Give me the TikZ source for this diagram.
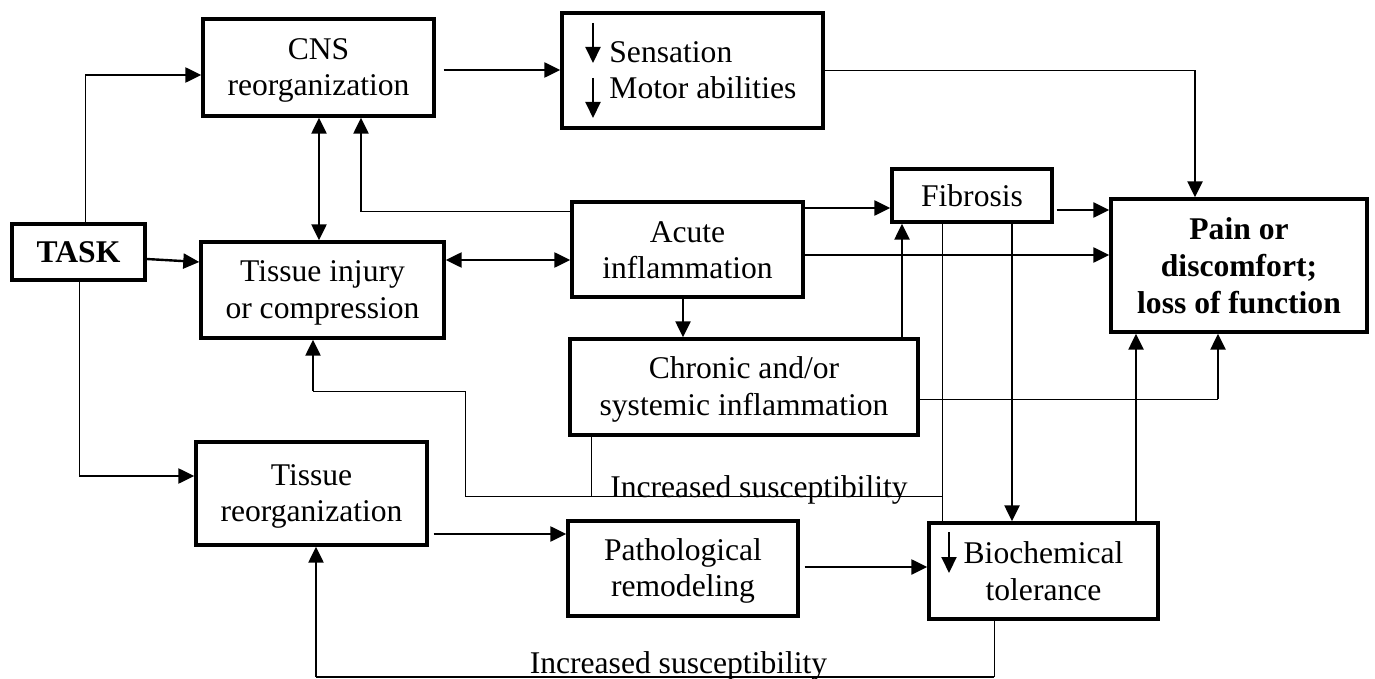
\documentclass[tikz,border=0pt]{standalone}
\usepackage{fontspec}
\setmainfont{Liberation Serif}
\usepackage{tikz}
\usetikzlibrary{shapes,arrows.meta,positioning}
\newcommand{\sr}{\rule[-2.5pt]{0pt}{16pt}}
\tikzstyle{box} = [rectangle, draw, line width=1.7pt, align=center, inner sep=0pt, font=\fontsize{15.8}{18.3}\selectfont]
\tikzstyle{bbox} = [box, font=\fontsize{15.8}{18.5}\selectfont\bfseries]
\tikzstyle{txt} = [align=left, inner sep=0pt, font=\fontsize{15.8}{18.3}\selectfont]
\tikzstyle{line} = [draw, line width=1.2pt]
\tikzstyle{thinline} = [draw, line width=0.5pt]
\tikzstyle{arrow} = [draw, line width=1.2pt, -{Triangle[length=8pt,width=7.5pt]}]
\tikzstyle{dblarrow} = [draw, line width=1.2pt, {Triangle[length=8pt,width=7.5pt]}-{Triangle[length=8pt,width=7.5pt]}]

\begin{document}
\begin{tikzpicture}[x=0.5pt, y=-0.5pt]
	\useasboundingbox (0,0) rectangle (1375,679);

	% boxes
	\node [bbox, minimum width=66.5pt, minimum height=28pt] (task) at (78.5,252) {\sr TASK};
	\node [box, minimum width=115.5pt, minimum height=48.5pt] (cns) at (318.5,67.5) {\sr CNS\\\sr reorganization};
	\node [box, minimum width=130.5pt, minimum height=57.5pt] (sens) at (692.5,70.5) {};
	\node [txt, anchor=west] (sensTxt) at (609,70) {Sensation\\Motor abilities};
	\node [box, minimum width=121.5pt, minimum height=48pt] (injury) at (322.5,290) {\sr Tissue injury\\\sr or compression};
	\node [box, minimum width=115.5pt, minimum height=47.5pt] (acute) at (687.5,249.5) {\sr Acute\\\sr inflammation};
	\node [box, minimum width=80pt, minimum height=26.5pt] (fibro) at (972,195.5) {\sr Fibrosis};
	\node [bbox, minimum width=128pt, minimum height=66.5pt] (pain) at (1239,265.5) {\sr Pain or\\\sr discomfort;\\\sr loss of function};
	\node [box, minimum width=174pt, minimum height=48pt] (chronic) at (744,387) {\sr Chronic and/or\\\sr systemic inflammation};
	\node [box, minimum width=115.5pt, minimum height=51.5pt] (treorg) at (311.5,493.5) {\sr Tissue\\\sr reorganization};
	\node [box, minimum width=115pt, minimum height=47.5pt] (patho) at (683,568.5) {\sr Pathological\\\sr remodeling};
	\node [box, minimum width=114.5pt, minimum height=48pt] (biochem) at (1043.5,571) {\sr Biochemical\\\sr tolerance};

	% down arrows inside the boxes
	\path [arrow, line width=1pt] ([shift={(-49.75pt,23.75pt)}]sens.center) -- ++(0pt,-20pt);
	\path [arrow, line width=1pt] ([shift={(-49.75pt,-3.75pt)}]sens.center) -- ++(0pt,-20pt);
	\path [arrow, line width=1pt] ([shift={(-47.25pt,19.5pt)}]biochem.center) -- ++(0pt,-20.5pt);

	% turning points
	\coordinate (k0) at (85,75);
	\coordinate (k1) at (361,212);
	\coordinate (k2) at (1195,70.5);
	\coordinate (k3) at (942,496);
	\coordinate (k4) at (465,496);
	\coordinate (k5) at (465,391);
	\coordinate (k6) at (313,391);
	\coordinate (k7) at (591,496);
	\coordinate (k8) at (994,677);
	\coordinate (k9) at (316,677);
	\coordinate (k10) at (1218,399);
	\coordinate (k11) at (79,476);

	% connectors
	\path [thinline] ([xshift=3.25pt]task.north) -- (k0);
	\path [arrow] (k0) -- ([yshift=-3.75pt]cns.west);
	\path [arrow] ([yshift=-3.5pt]task.east) -- ([yshift=14pt]injury.west);
	\path [thinline] ([xshift=0.25pt]task.south) -- (k11);
	\path [arrow] (k11) -- ([yshift=8.75pt]treorg.west);
	\path [dblarrow] ([xshift=0.25pt]cns.south) -- ([xshift=-1.75pt]injury.north);
	\path [thinline] ([yshift=18.75pt]acute.west) -- (k1);
	\path [arrow] (k1) -- ([xshift=21.25pt]cns.south);
	\path [arrow] ([xshift=4pt,yshift=-1.25pt]cns.east) -- ([yshift=0.25pt]sens.west);
	\path [thinline] (sens.east) -- (k2);
	\path [arrow] (k2) -- ([xshift=-22pt]pain.north);
	\path [dblarrow] ([yshift=15pt]injury.east) -- ([yshift=-5.25pt]acute.west);
	\path [arrow] ([yshift=20.75pt]acute.east) -- ([yshift=-6.25pt]fibro.west);
	\path [arrow] ([yshift=-2.75pt]acute.east) -- ([yshift=5.25pt]pain.west);
	\path [arrow] ([xshift=1.5pt,yshift=-7.25pt]fibro.east) -- ([yshift=27.75pt]pain.west);
	\path [arrow] ([xshift=-2.25pt]acute.south) -- ([xshift=-30.5pt]chronic.north);
	\path [arrow] ([xshift=79pt]chronic.north) -- ([xshift=-35pt]fibro.south);
	\path [arrow] ([xshift=20pt]fibro.south) -- ([xshift=-15.75pt]biochem.north);
	\path [thinline] ([xshift=-15pt]fibro.south) -- ([xshift=-50.75pt]biochem.north);
	\path [arrow] ([xshift=2.5pt,yshift=-20.25pt]treorg.east) -- ([yshift=17.25pt]patho.west);
	\path [arrow] ([xshift=2.5pt,yshift=0.75pt]patho.east) -- ([yshift=2pt]biochem.west);
	\path [arrow] ([xshift=46.25pt]biochem.north) -- ([xshift=-51.5pt]pain.south);
	\path [thinline] ([yshift=-6pt]chronic.east) -- (k10);
	\path [arrow] (k10) -- ([xshift=-10.5pt]pain.south);

	% increased susceptibility loops
	\path [thinline] (k3) -- (k4) -- (k5) -- (k6);
	\path [arrow] (k6) -- ([xshift=-4.75pt]injury.south);
	\path [thinline] ([xshift=-76.5pt]chronic.south) -- (k7);
	\path [thinline] ([xshift=-24.75pt]biochem.south) -- (k8);
	\path [thinline, line width=0.7pt] (k8) -- (k9);
	\path [arrow] (k9) -- ([xshift=2.25pt]treorg.south);
	\node [txt, anchor=base] (sus1) at (759,497) {Increased susceptibility};
	\node [txt, anchor=base] (sus2) at (678.5,673) {Increased susceptibility};
\end{tikzpicture}
\end{document}
